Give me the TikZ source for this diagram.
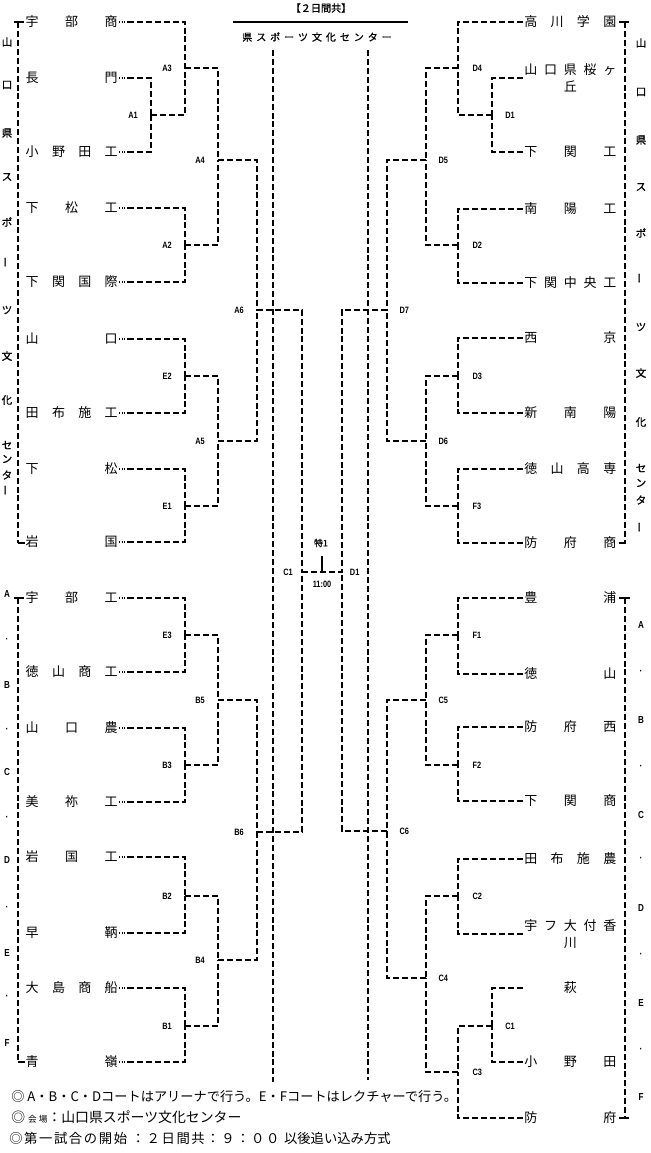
\documentclass[tikz,border=0pt]{standalone}
\usepackage{fontspec}
\setmainfont{Noto Sans CJK JP}
\newfontfamily\labfont[FakeStretch=0.8]{Liberation Sans}
\newfontfamily\sidefont[FakeBold=1.2]{Noto Sans CJK JP}
\newfontfamily\widefont[LetterSpace=12]{Noto Sans CJK JP}
\usetikzlibrary{positioning}
\newcommand{\teamname}[1]{\makebox[69pt][s]{#1}}

\begin{document}
\begin{tikzpicture}[x=0.75pt,y=0.75pt,yscale=-1,xscale=1,
	link/.style={line width=1pt,dash pattern=on 4.5pt off 2.2pt},
	dots/.style={line width=1pt,dash pattern=on 0.8pt off 1.2pt},
	tick/.style={line width=1pt},
	team/.style={inner sep=0.75pt,font=\fontsize{9.75}{12.75}\selectfont},
	mlab/.style={inner sep=0.75pt,font=\labfont\bfseries\fontsize{6.9}{7.5}\selectfont},
	side/.style={inner sep=0pt,font=\sidefont\fontsize{7.9}{8.5}\selectfont},
	court/.style={inner sep=0pt,font=\labfont\bfseries\fontsize{7.6}{8}\selectfont},
	note/.style={inner sep=0.75pt,anchor=west,font=\fontsize{9.9}{11}\selectfont}]
			\useasboundingbox (0,0) rectangle (650,1153);
			
			% Text Node
			\node[inner sep=0.75pt,font=\sidefont\fontsize{7.6}{8}\selectfont] (days) at (321,8) {【２日間共】};
			%Straight Lines
			\draw[line width=1.1pt] (233,22) -- (408,22);
			% Text Node
			\node[inner sep=0.75pt,font=\sidefont\fontsize{7.5}{8}\selectfont] (venue) at (317,37) {\makebox[112pt][s]{県\hfill ス\hfill ポ\hfill ー\hfill ツ\hfill 文\hfill 化\hfill セ\hfill ン\hfill タ\hfill ー}};
			%Straight Lines
			\draw[link] (273,50) -- (273,1082);
			\draw[link] (368,50) -- (368,1080);
			
			%Shape: side brackets
			\draw[tick] (14,22) -- (24,22) (18,543) -- (25,543);
			\draw[link] (18,22) -- (18,543);
			\draw[tick] (14,598) -- (24,598) (18,1062) -- (25,1062);
			\draw[link] (18,598) -- (18,1062);
			\draw[tick] (619,22) -- (629,22) (619,543) -- (626,543);
			\draw[link] (625,22) -- (625,543);
			\draw[tick] (619,598) -- (630,598) (619,1118) -- (629,1118);
			\draw[link] (625,598) -- (625,1118);
			
			% Text Node: left venue
			\node[side] (sl1) at (7,42) {山};
			\node[side] (sl2) at (7,85) {口};
			\node[side] (sl3) at (7,133) {県};
			\node[side] (sl4) at (7,177) {ス};
			\node[side] (sl5) at (7,222) {ポ};
			\node[side,rotate=90] (sl6) at (7,262) {ー};
			\node[side] (sl7) at (7,310) {ツ};
			\node[side] (sl8) at (7,356) {文};
			\node[side] (sl9) at (7,400) {化};
			\node[side] (sl10) at (7,445) {セ};
			\node[side] (sl11) at (7,459) {ン};
			\node[side] (sl12) at (7,475) {タ};
			\node[side,rotate=90] (sl13) at (7,490) {ー};
			% Text Node: right venue
			\node[side] (sr1) at (641,43) {山};
			\node[side] (sr2) at (641,92) {口};
			\node[side] (sr3) at (641,140) {県};
			\node[side] (sr4) at (641,187) {ス};
			\node[side] (sr5) at (641,233) {ポ};
			\node[side,rotate=90] (sr6) at (641,278) {ー};
			\node[side] (sr7) at (641,327) {ツ};
			\node[side] (sr8) at (641,373) {文};
			\node[side] (sr9) at (641,422) {化};
			\node[side] (sr10) at (641,468) {セ};
			\node[side] (sr11) at (641,483) {ン};
			\node[side] (sr12) at (641,500) {タ};
			\node[side,rotate=90] (sr13) at (641,527) {ー};
			% Text Node: left courts
			\node[court] (cl1) at (7,594) {A};
			\node[court] (cl2) at (7,640) {·};
			\node[court] (cl3) at (7,685) {B};
			\node[court] (cl4) at (7,730) {·};
			\node[court] (cl5) at (7,772) {C};
			\node[court] (cl6) at (7,818) {·};
			\node[court] (cl7) at (7,860) {D};
			\node[court] (cl8) at (7,908) {·};
			\node[court] (cl9) at (7,953) {E};
			\node[court] (cl10) at (7,997) {·};
			\node[court] (cl11) at (7,1043) {F};
			% Text Node: right courts
			\node[court] (cr1) at (641,625) {A};
			\node[court] (cr2) at (641,672) {·};
			\node[court] (cr3) at (641,720) {B};
			\node[court] (cr4) at (641,767) {·};
			\node[court] (cr5) at (641,815) {C};
			\node[court] (cr6) at (641,859) {·};
			\node[court] (cr7) at (641,908) {D};
			\node[court] (cr8) at (641,955) {·};
			\node[court] (cr9) at (641,1003) {E};
			\node[court] (cr10) at (641,1050) {·};
			\node[court] (cr11) at (641,1097) {F};
			
			% Text Node: left teams
			\node[team,anchor=east] (L1) at (119,22) {\teamname{宇\hfill 部\hfill 商}};
			\node[team,anchor=east] (L2) at (119,78) {\teamname{長\hfill 門}};
			\node[team,anchor=east] (L3) at (119,152) {\teamname{小\hfill 野\hfill 田\hfill 工}};
			\node[team,anchor=east] (L4) at (119,208) {\teamname{下\hfill 松\hfill 工}};
			\node[team,anchor=east] (L5) at (119,282) {\teamname{下\hfill 関\hfill 国\hfill 際}};
			\node[team,anchor=east] (L6) at (119,339) {\teamname{山\hfill 口}};
			\node[team,anchor=east] (L7) at (119,413) {\teamname{田\hfill 布\hfill 施\hfill 工}};
			\node[team,anchor=east] (L8) at (119,469) {\teamname{下\hfill 松}};
			\node[team,anchor=east] (L9) at (119,542) {\teamname{岩\hfill 国}};
			\node[team,anchor=east] (L10) at (119,598) {\teamname{宇\hfill 部\hfill 工}};
			\node[team,anchor=east] (L11) at (119,672) {\teamname{徳\hfill 山\hfill 商\hfill 工}};
			\node[team,anchor=east] (L12) at (119,728) {\teamname{山\hfill 口\hfill 農}};
			\node[team,anchor=east] (L13) at (119,802) {\teamname{美\hfill 祢\hfill 工}};
			\node[team,anchor=east] (L14) at (119,857) {\teamname{岩\hfill 国\hfill 工}};
			\node[team,anchor=east] (L15) at (119,933) {\teamname{早\hfill 鞆}};
			\node[team,anchor=east] (L16) at (119,988) {\teamname{大\hfill 島\hfill 商\hfill 船}};
			\node[team,anchor=east] (L17) at (119,1062) {\teamname{青\hfill 嶺}};
			% Text Node: right teams
			\node[team,anchor=west] (R1) at (523,22) {\teamname{高\hfill 川\hfill 学\hfill 園}};
			\node[team,anchor=west,align=center] (R2) at (523,78) {\teamname{山\hfill 口\hfill 県\hfill 桜\hfill ヶ}\\丘};
			\node[team,anchor=west] (R3) at (523,152) {\teamname{下\hfill 関\hfill 工}};
			\node[team,anchor=west] (R4) at (523,209) {\teamname{南\hfill 陽\hfill 工}};
			\node[team,anchor=west] (R5) at (523,283) {\teamname{下\hfill 関\hfill 中\hfill 央\hfill 工}};
			\node[team,anchor=west] (R6) at (523,338) {\teamname{西\hfill 京}};
			\node[team,anchor=west] (R7) at (523,413) {\teamname{新\hfill 南\hfill 陽}};
			\node[team,anchor=west] (R8) at (523,469) {\teamname{徳\hfill 山\hfill 高\hfill 専}};
			\node[team,anchor=west] (R9) at (523,543) {\teamname{防\hfill 府\hfill 商}};
			\node[team,anchor=west] (R10) at (523,598) {\teamname{豊\hfill 浦}};
			\node[team,anchor=west] (R11) at (523,674) {\teamname{徳\hfill 山}};
			\node[team,anchor=west] (R12) at (523,727) {\teamname{防\hfill 府\hfill 西}};
			\node[team,anchor=west] (R13) at (523,801) {\teamname{下\hfill 関\hfill 商}};
			\node[team,anchor=west] (R14) at (523,859) {\teamname{田\hfill 布\hfill 施\hfill 農}};
			\node[team,anchor=west,align=center] (R15) at (523,934) {\teamname{宇\hfill フ\hfill 大\hfill 付\hfill 香}\\川};
			\node[team,anchor=west] (R16) at (523,988) {\teamname{\hfill 萩\hfill}};
			\node[team,anchor=west] (R17) at (523,1062) {\teamname{小\hfill 野\hfill 田}};
			\node[team,anchor=west] (R18) at (523,1118) {\teamname{防\hfill 府}};
			
			% Match points: left
			\coordinate (mA1) at (151,115);
			\coordinate (mA3) at (185,68);
			\coordinate (mA2) at (185,245);
			\coordinate (mA4) at (218,160);
			\coordinate (mE2) at (185,376);
			\coordinate (mE1) at (185,506);
			\coordinate (mA5) at (218,441);
			\coordinate (mA6) at (257,310);
			\coordinate (mE3) at (185,635);
			\coordinate (mB3) at (185,765);
			\coordinate (mB5) at (218,700);
			\coordinate (mB2) at (185,896);
			\coordinate (mB1) at (185,1026);
			\coordinate (mB4) at (218,960);
			\coordinate (mB6) at (257,832);
			% Match points: right
			\coordinate (mD1) at (492,115);
			\coordinate (mD4) at (458,68);
			\coordinate (mD2) at (458,245);
			\coordinate (mD5) at (426,160);
			\coordinate (mD3) at (458,376);
			\coordinate (mF3) at (458,506);
			\coordinate (mD6) at (426,441);
			\coordinate (mD7) at (387,310);
			\coordinate (mF1) at (458,635);
			\coordinate (mF2) at (458,765);
			\coordinate (mC5) at (426,700);
			\coordinate (mC2) at (458,896);
			\coordinate (mC1) at (492,1026);
			\coordinate (mC3) at (458,1072);
			\coordinate (mC4) at (426,978);
			\coordinate (mC6) at (387,831);
			% Match points: final
			\coordinate (fC1) at (302,572);
			\coordinate (fD1) at (342,572);
			\coordinate (sp1) at (322,556);
			
			%Straight Lines: left leaders
			\draw[dots] (L1.east) -- ++(9,0) coordinate (L1d);
			\draw[dots] (L2.east) -- ++(9,0) coordinate (L2d);
			\draw[dots] (L3.east) -- ++(9,0) coordinate (L3d);
			\draw[dots] (L4.east) -- ++(9,0) coordinate (L4d);
			\draw[dots] (L5.east) -- ++(9,0) coordinate (L5d);
			\draw[dots] (L6.east) -- ++(9,0) coordinate (L6d);
			\draw[dots] (L7.east) -- ++(9,0) coordinate (L7d);
			\draw[dots] (L8.east) -- ++(9,0) coordinate (L8d);
			\draw[dots] (L9.east) -- ++(9,0) coordinate (L9d);
			\draw[dots] (L10.east) -- ++(9,0) coordinate (L10d);
			\draw[dots] (L11.east) -- ++(9,0) coordinate (L11d);
			\draw[dots] (L12.east) -- ++(9,0) coordinate (L12d);
			\draw[dots] (L13.east) -- ++(9,0) coordinate (L13d);
			\draw[dots] (L14.east) -- ++(9,0) coordinate (L14d);
			\draw[dots] (L15.east) -- ++(9,0) coordinate (L15d);
			\draw[dots] (L16.east) -- ++(9,0) coordinate (L16d);
			\draw[dots] (L17.east) -- ++(9,0) coordinate (L17d);
			
			%Straight Lines: left bracket
			\draw[link] (L2d) -| (mA1);
			\draw[link] (L3d) -| (mA1);
			\draw[link] (L1d) -| (mA3);
			\draw[link] (mA1) -| (mA3);
			\draw[link] (L4d) -| (mA2);
			\draw[link] (L5d) -| (mA2);
			\draw[link] (mA3) -| (mA4);
			\draw[link] (mA2) -| (mA4);
			\draw[link] (L6d) -| (mE2);
			\draw[link] (L7d) -| (mE2);
			\draw[link] (L8d) -| (mE1);
			\draw[link] (L9d) -| (mE1);
			\draw[link] (mE2) -| (mA5);
			\draw[link] (mE1) -| (mA5);
			\draw[link] (mA4) -| (mA6);
			\draw[link] (mA5) -| (mA6);
			\draw[link] (L10d) -| (mE3);
			\draw[link] (L11d) -| (mE3);
			\draw[link] (L12d) -| (mB3);
			\draw[link] (L13d) -| (mB3);
			\draw[link] (mE3) -| (mB5);
			\draw[link] (mB3) -| (mB5);
			\draw[link] (L14d) -| (mB2);
			\draw[link] (L15d) -| (mB2);
			\draw[link] (L16d) -| (mB1);
			\draw[link] (L17d) -| (mB1);
			\draw[link] (mB2) -| (mB4);
			\draw[link] (mB1) -| (mB4);
			\draw[link] (mB5) -| (mB6);
			\draw[link] (mB4) -| (mB6);
			
			%Straight Lines: right bracket
			\draw[link] (R2.west) -| (mD1);
			\draw[link] (R3.west) -| (mD1);
			\draw[link] (R1.west) -| (mD4);
			\draw[link] (mD1) -| (mD4);
			\draw[link] (R4.west) -| (mD2);
			\draw[link] (R5.west) -| (mD2);
			\draw[link] (mD4) -| (mD5);
			\draw[link] (mD2) -| (mD5);
			\draw[link] (R6.west) -| (mD3);
			\draw[link] (R7.west) -| (mD3);
			\draw[link] (R8.west) -| (mF3);
			\draw[link] (R9.west) -| (mF3);
			\draw[link] (mD3) -| (mD6);
			\draw[link] (mF3) -| (mD6);
			\draw[link] (mD5) -| (mD7);
			\draw[link] (mD6) -| (mD7);
			\draw[link] (R10.west) -| (mF1);
			\draw[link] (R11.west) -| (mF1);
			\draw[link] (R12.west) -| (mF2);
			\draw[link] (R13.west) -| (mF2);
			\draw[link] (mF1) -| (mC5);
			\draw[link] (mF2) -| (mC5);
			\draw[link] (R14.west) -| (mC2);
			\draw[link] (R15.west) -| (mC2);
			\draw[link] (R16.west) -| (mC1);
			\draw[link] (R17.west) -| (mC1);
			\draw[link] (mC1) -| (mC3);
			\draw[link] (R18.west) -| (mC3);
			\draw[link] (mC2) -| (mC4);
			\draw[link] (mC3) -| (mC4);
			\draw[link] (mC5) -| (mC6);
			\draw[link] (mC4) -| (mC6);
			
			%Straight Lines: final
			\draw[link] (mA6) -| (fC1);
			\draw[link] (mB6) -| (fC1);
			\draw[link] (mD7) -| (fD1);
			\draw[link] (mC6) -| (fD1);
			\draw[link] (fC1) -- (fD1);
			\draw[tick] (sp1) -- (sp1 |- fC1);
			
			% Text Node: match labels
			\node[mlab,left=9pt of mA1] (tA1) {A1};
			\node[mlab,left=9pt of mA3] (tA3) {A3};
			\node[mlab,left=9pt of mA2] (tA2) {A2};
			\node[mlab,left=9pt of mA4] (tA4) {A4};
			\node[mlab,left=9pt of mE2] (tE2) {E2};
			\node[mlab,left=9pt of mE1] (tE1) {E1};
			\node[mlab,left=9pt of mA5] (tA5) {A5};
			\node[mlab,left=9pt of mA6] (tA6) {A6};
			\node[mlab,left=9pt of mE3] (tE3) {E3};
			\node[mlab,left=9pt of mB3] (tB3) {B3};
			\node[mlab,left=9pt of mB5] (tB5) {B5};
			\node[mlab,left=9pt of mB2] (tB2) {B2};
			\node[mlab,left=9pt of mB1] (tB1) {B1};
			\node[mlab,left=9pt of mB4] (tB4) {B4};
			\node[mlab,left=9pt of mB6] (tB6) {B6};
			\node[mlab,right=9pt of mD1] (tD1) {D1};
			\node[mlab,right=10pt of mD4] (tD4) {D4};
			\node[mlab,right=10pt of mD2] (tD2) {D2};
			\node[mlab,right=8.5pt of mD5] (tD5) {D5};
			\node[mlab,right=10pt of mD3] (tD3) {D3};
			\node[mlab,right=10pt of mF3] (tF3) {F3};
			\node[mlab,right=8.5pt of mD6] (tD6) {D6};
			\node[mlab,right=8.5pt of mD7] (tD7) {D7};
			\node[mlab,right=10pt of mF1] (tF1) {F1};
			\node[mlab,right=10pt of mF2] (tF2) {F2};
			\node[mlab,right=8.5pt of mC5] (tC5) {C5};
			\node[mlab,right=10pt of mC2] (tC2) {C2};
			\node[mlab,right=9pt of mC1] (tC1) {C1};
			\node[mlab,right=10pt of mC3] (tC3) {C3};
			\node[mlab,right=8.5pt of mC4] (tC4) {C4};
			\node[mlab,right=8.5pt of mC6] (tC6) {C6};
			\node[mlab,left=6pt of fC1] (tfC1) {C1};
			\node[mlab,right=5pt of fD1] (tfD1) {D1};
			\node[inner sep=0.75pt,font=\sidefont\fontsize{6.6}{7}\selectfont] (sp1t) at (321,543) {特1};
			\node[mlab] (sp1time) at (322,584) {11:00};
			
			% Text Node: notes
			\node[note] (n1) at (10,1097) {◎ A・B・C・Dコートはアリーナで行う。E・Fコートはレクチャーで行う。};
			\node[note,font=\fontsize{10.4}{11}\selectfont] (n2) at (10,1117) {◎ {\fontsize{6.5}{7}\selectfont 会 場}：山口県スポーツ文化センター};
			\node[note,font=\widefont\fontsize{10}{11}\selectfont] (n3) at (8,1138) {◎第一試合の開始 ：２日間共：９：００ {\normalfont\fontsize{10}{11}\selectfont 以後追い込み方式}};
			
		\end{tikzpicture}
\end{document}
